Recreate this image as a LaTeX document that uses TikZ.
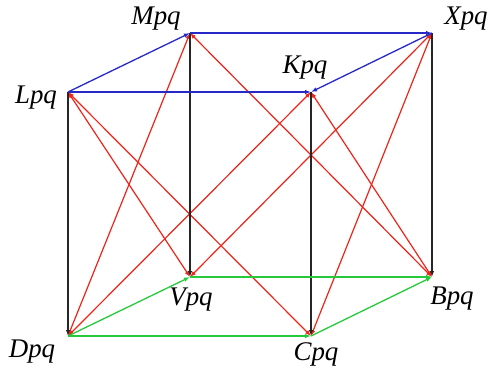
\documentclass[tikz,border=0pt]{standalone}
\usepackage{fontspec}
\setmainfont{Liberation Serif}
\usetikzlibrary{arrows.meta}
\definecolor{eblue}{RGB}{40,40,200}
\definecolor{ered}{RGB}{240,35,25}
\definecolor{egreen}{RGB}{40,200,60}
\begin{document}
\begin{tikzpicture}[x=1bp,y=-1bp,
  lbl/.style={font=\fontsize{27}{30}\selectfont\itshape, inner sep=0pt},
  edge/.style={line width=1.3bp, -{Latex[length=6pt,width=4.5pt]}},
  bedge/.style={edge, draw=eblue},
  kedge/.style={edge, draw=black!85},
  gedge/.style={edge, draw=egreen},
  redge/.style={line width=1.2bp, draw=ered, {Latex[length=6pt,width=4.5pt]}-{Latex[length=6pt,width=4.5pt]}}]
\useasboundingbox (0,0) rectangle (495,371);
% vertices
\coordinate (L) at (68,92);
\coordinate (M) at (190,33);
\coordinate (X) at (432,33);
\coordinate (K) at (311,92);
\coordinate (D) at (68,336);
\coordinate (V) at (190,277);
\coordinate (B) at (432,277);
\coordinate (C) at (311,336);
% labels
\node[lbl] (tM) at (156,19) {Mpq};
\node[lbl] (tX) at (466,19) {Xpq};
\node[lbl] (tL) at (36,98) {Lpq};
\node[lbl] (tK) at (305,68) {Kpq};
\node[lbl] (tV) at (191,300) {Vpq};
\node[lbl] (tB) at (452,299) {Bpq};
\node[lbl] (tD) at (32,352) {Dpq};
\node[lbl] (tC) at (316,354) {Cpq};
% red diagonals
\draw[redge] (L) -- (V);
\draw[redge] (L) -- (C);
\draw[redge] (M) -- (D);
\draw[redge] (M) -- (B);
\draw[redge] (K) -- (D);
\draw[redge] (K) -- (B);
\draw[redge] (X) -- (V);
\draw[redge] (X) -- (C);
% vertical edges
\draw[kedge] (L) -- (D);
\draw[kedge] (M) -- (V);
\draw[kedge] (K) -- (C);
\draw[kedge] (X) -- (B);
% top face
\draw[bedge] (L) -- (M);
\draw[bedge] (M) -- (X);
\draw[bedge] (L) -- (K);
\draw[bedge] (X) -- (K);
% bottom face
\draw[gedge] (D) -- (V);
\draw[gedge] (V) -- (B);
\draw[gedge] (D) -- (C);
\draw[gedge] (C) -- (B);
\end{tikzpicture}
\end{document}
